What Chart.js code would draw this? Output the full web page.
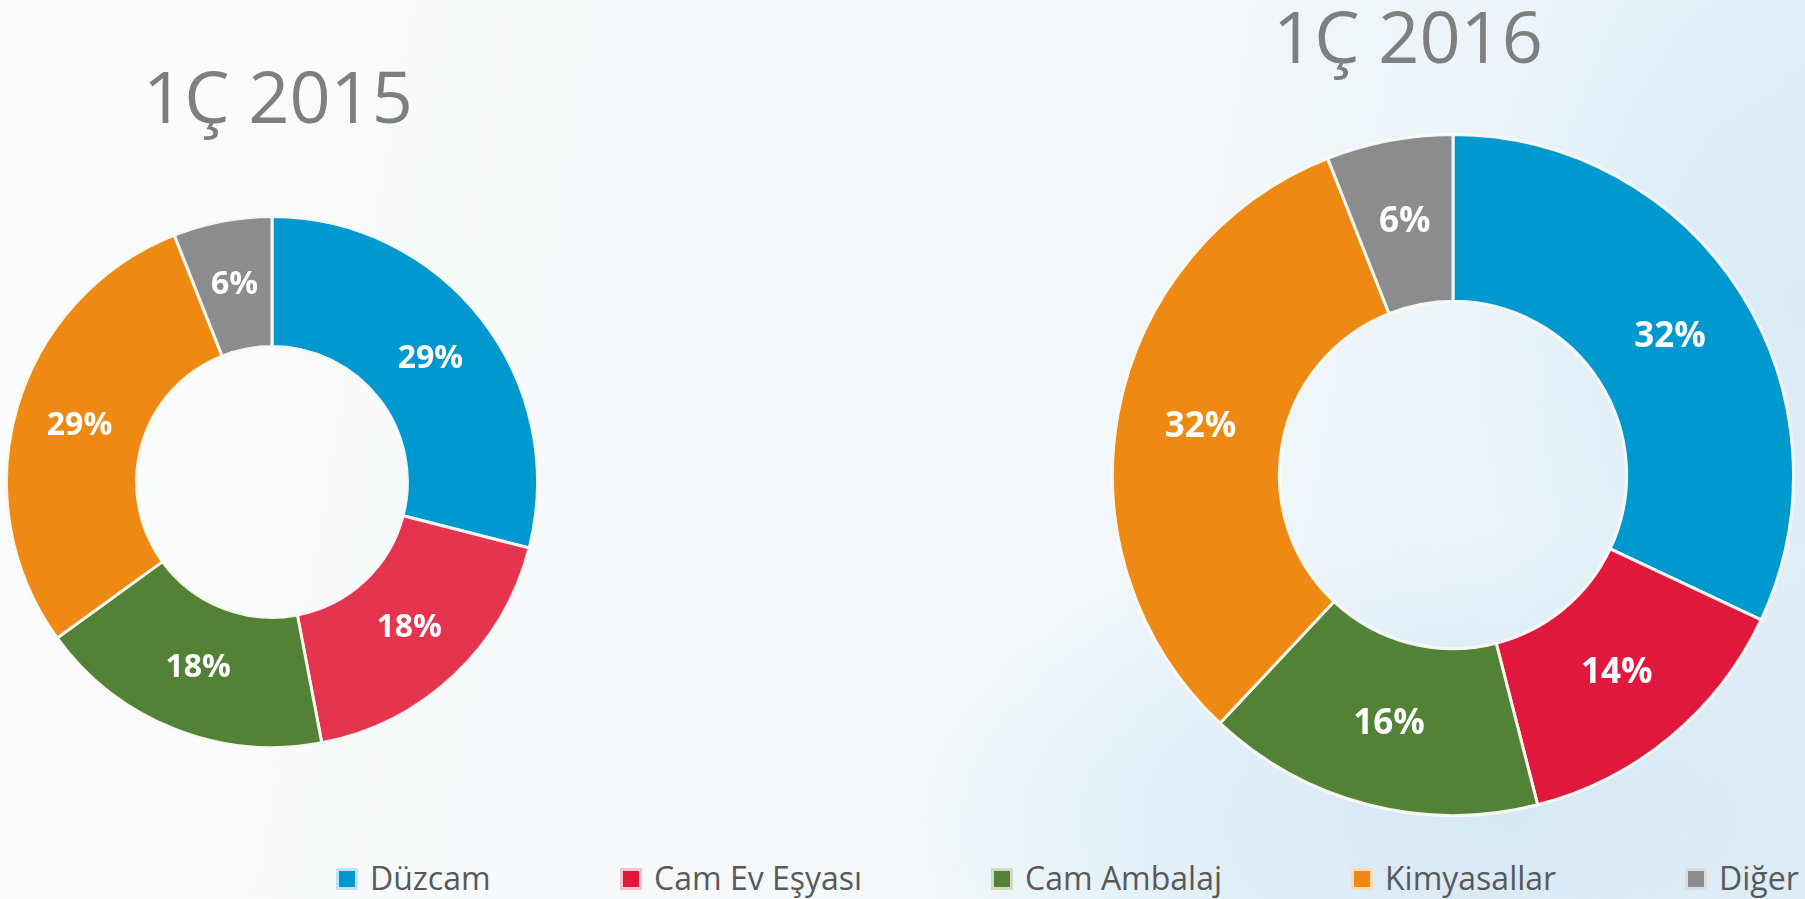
<!DOCTYPE html>
<html>
<head>
<meta charset="utf-8">
<script src="https://cdn.jsdelivr.net/npm/chart.js@4"></script>
<style>
  html, body { margin: 0; padding: 0; }
  body {
    width: 1805px; height: 899px; overflow: hidden; position: relative;
    font-family: "Open Sans", sans-serif;
    background:
      radial-gradient(ellipse 900px 420px at 1500px 820px, rgba(205,228,244,0.75), rgba(205,228,244,0) 70%),
      radial-gradient(ellipse 500px 700px at 1800px 300px, rgba(214,233,246,0.8), rgba(214,233,246,0) 70%),
      linear-gradient(100deg, #fbfcfd 0%, #f5f9fb 45%, #e7f1f8 100%);
  }
  .title {
    position: absolute; font-size: 72px; color: #7f7f7f;
    transform: translateX(-50%); white-space: nowrap; line-height: normal;
  }
  .chartbox { position: absolute; }
  #legend .item {
    position: absolute; top: 856px; font-size: 32px; color: #595959;
    white-space: nowrap; line-height: normal;
  }
  #legend .box {
    position: absolute; top: 12px; left: 0; width: 16px; height: 16px;
    border: 3.5px solid; border-radius: 1px;
  }
  #legend .txt { margin-left: 34px; }
</style>
</head>
<body>
<div class="title" id="t1"></div>
<div class="title" id="t2"></div>
<div class="chartbox" id="b1"><canvas id="c1"></canvas></div>
<div class="chartbox" id="b2"><canvas id="c2"></canvas></div>
<div id="legend"></div>
<script>
const categories = ['Düzcam', 'Cam Ev Eşyası', 'Cam Ambalaj', 'Kimyasallar', 'Diğer'];
const titles = ['1Ç 2015', '1Ç 2016'];
const values2015 = [29, 18, 18, 29, 6];
const values2016 = [32, 14, 16, 32, 6];
const colors2015 = ['#0099CF', '#E4344E', '#538135', '#EE8A14', '#8B8C8E'];
const colors2016 = ['#0099CF', '#E1183E', '#538135', '#EE8A14', '#8B8C8E'];
const legendLightColors = ['#bfe3f2', '#f6c3cc', '#cfdcc4', '#fbdcb6', '#dcdcdc'];
const legendLeft = [336, 620, 991, 1351, 1685];

// centre and outer radius of each doughnut
const layouts = [
  { cx: 272, cy: 482, r: 265, titleX: 278, titleTop: 46, labelSize: 32 },
  { cx: 1453, cy: 475, r: 340, titleX: 1408, titleTop: -14, labelSize: 35 }
];

const pctLabels = {
  id: 'pctLabels',
  afterDatasetsDraw(chart, args, opts) {
    const ctx = chart.ctx;
    const meta = chart.getDatasetMeta(0);
    const data = chart.data.datasets[0].data;
    ctx.save();
    ctx.fillStyle = '#ffffff';
    ctx.font = 'bold ' + opts.size + 'px "Open Sans"';
    ctx.textAlign = 'center';
    ctx.textBaseline = 'middle';
    meta.data.forEach((arc, i) => {
      const p = arc.tooltipPosition();
      ctx.fillText(data[i] + '%', p.x, p.y);
    });
    ctx.restore();
  }
};

function makeChart(idx, canvasId, boxId, values, colors) {
  const L = layouts[idx];
  const size = L.r * 2 + 4;
  const box = document.getElementById(boxId);
  box.style.left = (L.cx - size / 2) + 'px';
  box.style.top = (L.cy - size / 2) + 'px';
  box.style.width = size + 'px';
  box.style.height = size + 'px';

  const t = document.getElementById(idx === 0 ? 't1' : 't2');
  t.textContent = titles[idx];
  t.style.left = L.titleX + 'px';
  t.style.top = L.titleTop + 'px';

  new Chart(document.getElementById(canvasId), {
    type: 'doughnut',
    data: {
      labels: categories,
      datasets: [{
        data: values,
        backgroundColor: colors,
        borderColor: 'rgba(250,250,246,0.95)',
        borderWidth: 3,
        hoverOffset: 0
      }]
    },
    options: {
      responsive: true,
      maintainAspectRatio: false,
      animation: false,
      cutout: '51%',
      layout: { padding: 0 },
      plugins: {
        legend: { display: false },
        tooltip: { enabled: false },
        pctLabels: { size: L.labelSize }
      }
    },
    plugins: [pctLabels]
  });
}

makeChart(0, 'c1', 'b1', values2015, colors2015);
makeChart(1, 'c2', 'b2', values2016, colors2016);

const legend = document.getElementById('legend');
categories.forEach((name, i) => {
  const item = document.createElement('div');
  item.className = 'item';
  item.style.left = legendLeft[i] + 'px';
  const b = document.createElement('span');
  b.className = 'box';
  b.style.background = colors2016[i];
  b.style.borderColor = legendLightColors[i];
  const s = document.createElement('span');
  s.className = 'txt';
  s.textContent = name;
  item.appendChild(b);
  item.appendChild(s);
  legend.appendChild(item);
});
</script>
</body>
</html>
